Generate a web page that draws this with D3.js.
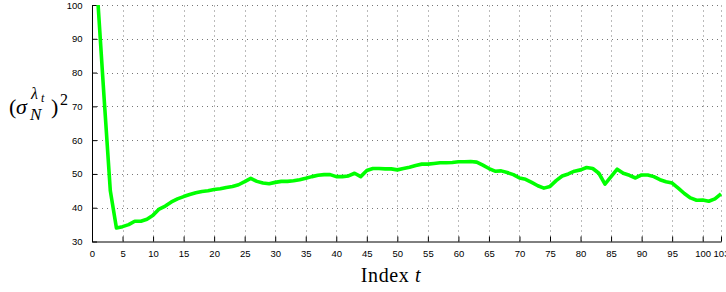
<!DOCTYPE html>
<html>
<head>
<meta charset="utf-8">
<script src="https://cdn.jsdelivr.net/npm/d3@7"></script>
<style>
  body { margin: 0; background: #fff; }
  svg { display: block; }
  .tick text { font-family: "Liberation Sans", Arial, sans-serif; font-size: 9.5px; fill: #000; }
</style>
</head>
<body>
<svg class="svg-chart"></svg>
<script>
// variance estimate per index t
var sigmaSq = [100, 72, 45, 34, 34.4, 35, 36, 36, 36.6, 37.8,
  39.6, 40.5, 41.7, 42.6, 43.3, 43.9, 44.4, 44.8, 45, 45.4,
  45.6, 46, 46.3, 46.8, 47.7, 48.7, 47.8, 47.3, 47.1, 47.5,
  47.8, 47.8, 48, 48.3, 48.7, 49.2, 49.6, 49.8, 49.8, 49.2,
  49.2, 49.4, 50.2, 49.2, 51, 51.6, 51.6, 51.5, 51.5, 51.2,
  51.6, 52, 52.5, 52.9, 52.9, 53.1, 53.3, 53.3, 53.4, 53.6,
  53.6, 53.7, 53.5, 52.6, 51.6, 50.8, 50.9, 50.4, 49.8, 48.8,
  48.4, 47.5, 46.5, 45.8, 46.3, 48, 49.4, 50, 50.8, 51.2,
  51.9, 51.6, 50.2, 47, 49.2, 51.4, 50.2, 49.6, 48.8, 49.7,
  49.7, 49.2, 48.3, 47.7, 47.3, 45.8, 44.2, 42.9, 42.2, 42.3,
  41.9, 42.6, 44.1];

var xTicks = [0, 5, 10, 15, 20, 25, 30, 35, 40, 45, 50, 55, 60, 65, 70, 75, 80, 85, 90, 95, 100, 103];
var yTicks = [30, 40, 50, 60, 70, 80, 90, 100];

var width = 726, height = 292;
var margin = {top: 5, right: 5, bottom: 50.5, left: 92};

var svg = d3.select(".svg-chart")
    .attr("width", width)
    .attr("height", height);

var x = d3.scaleLinear()
    .domain([0, 103])
    .range([margin.left, width - margin.right]);

var y = d3.scaleLinear()
    .domain([30, 100])
    .range([height - margin.bottom, margin.top]);

// dotted grid
var grid = svg.append("g");
grid.selectAll(".vgrid")
    .data(xTicks.slice(1))
    .enter().append("line")
    .attr("x1", function(d) { return Math.round(x(d)) + 0.5; })
    .attr("x2", function(d) { return Math.round(x(d)) + 0.5; })
    .attr("y1", y(30))
    .attr("y2", y(100))
    .style("stroke", "#777")
    .style("stroke-width", 1)
    .style("stroke-dasharray", "1,4");
grid.selectAll(".hgrid")
    .data(yTicks.slice(1))
    .enter().append("line")
    .attr("x1", x(0))
    .attr("x2", x(103))
    .attr("y1", function(d) { return Math.round(y(d)) + 0.5; })
    .attr("y2", function(d) { return Math.round(y(d)) + 0.5; })
    .style("stroke", "#777")
    .style("stroke-width", 1)
    .style("stroke-dasharray", "1,4");

// axes, ticks pointing inward
var xAxis = d3.axisBottom(x).tickValues(xTicks).tickSizeInner(-5).tickSizeOuter(0).tickPadding(9);
var yAxis = d3.axisLeft(y).tickValues(yTicks).tickSizeInner(-5).tickSizeOuter(0).tickPadding(9);

var gx = svg.append("g")
    .attr("transform", "translate(0," + y(30) + ")")
    .call(xAxis);
var gy = svg.append("g")
    .attr("transform", "translate(" + x(0) + ",0)")
    .call(yAxis);
gy.selectAll("text").attr("dx", "-0.05em");
[gx, gy].forEach(function(g) {
  g.selectAll("path").style("stroke", "#000");
  g.selectAll("line").style("stroke", "#000");
});

// the series
var line = d3.line()
    .x(function(d, i) { return x(i + 1); })
    .y(function(d) { return y(d); });

svg.append("path")
    .datum(sigmaSq)
    .attr("d", line)
    .style("fill", "none")
    .style("stroke", "#00ff00")
    .style("stroke-width", 3.6)
    .style("stroke-linejoin", "round");

// x label
svg.append("text")
    .attr("x", 391)
    .attr("y", 282)
    .attr("text-anchor", "middle")
    .style("font-family", "'Liberation Serif', 'Times New Roman', serif")
    .style("font-size", "20px")
    .style("letter-spacing", "0.6px")
    .html('Index <tspan font-style="italic">t</tspan>');

// y label (sigma_N^{lambda_t})^2
var serif = "'Liberation Serif', 'DejaVu Serif', serif";
var yl = svg.append("g").style("font-family", serif);
yl.append("text").attr("x", 9).attr("y", 114).style("font-size", "22px").text("(");
yl.append("text").attr("x", 16).attr("y", 114).style("font-size", "22px").style("font-style", "italic").text("σ");
yl.append("text").attr("x", 31).attr("y", 99).style("font-size", "16px").style("font-style", "italic").text("λ");
yl.append("text").attr("x", 41).attr("y", 102).style("font-size", "12px").style("font-style", "italic").text("t");
yl.append("text").attr("x", 30).attr("y", 120).style("font-size", "17px").style("font-style", "italic").text("N");
yl.append("text").attr("x", 51).attr("y", 114).style("font-size", "22px").text(")");
yl.append("text").attr("x", 60).attr("y", 105).style("font-size", "16px").text("2");
</script>
</body>
</html>
